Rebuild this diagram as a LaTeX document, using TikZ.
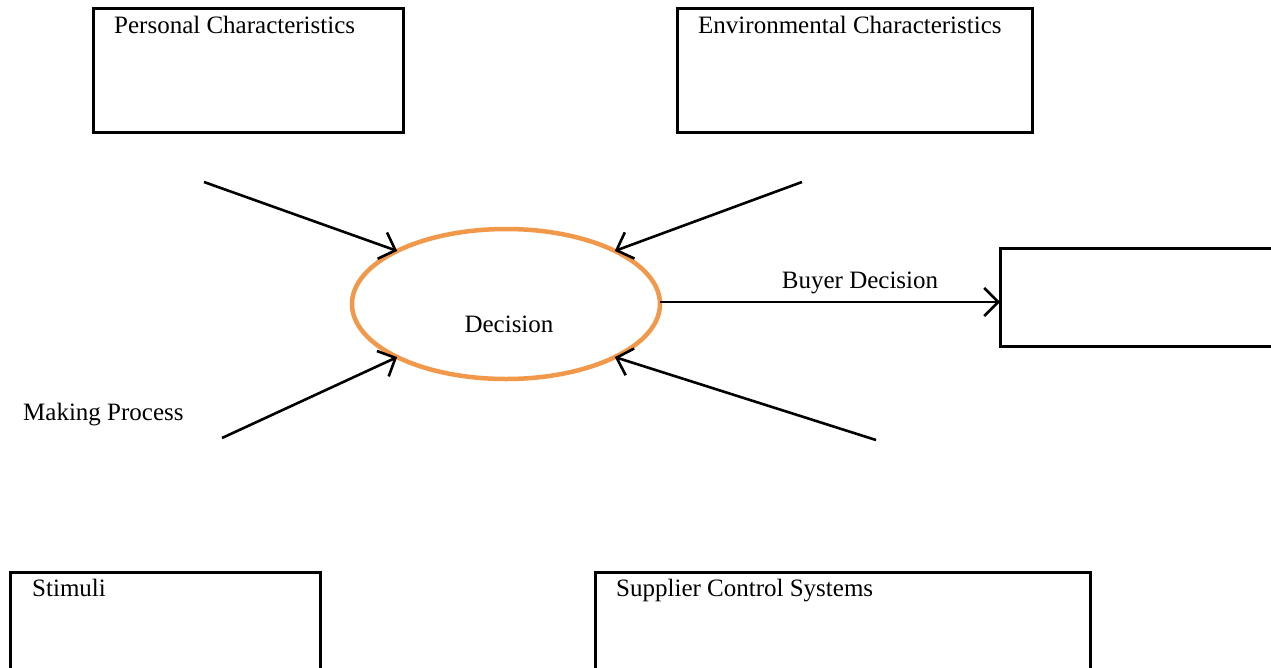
\documentclass[tikz,border=0pt]{standalone}
\usepackage{fontspec}
\setmainfont{Liberation Serif}
\usetikzlibrary{shapes.geometric,arrows.meta}
\definecolor{ellorange}{RGB}{242,152,74}
\begin{document}
\begin{tikzpicture}[x=1pt,y=-1pt,
  box/.style={draw=black,line width=3pt,rectangle,inner sep=0pt,outer sep=0pt},
  lbl/.style={anchor=base west,inner sep=0pt,font=\fontsize{25}{30}\selectfont},
  arr/.style={line width=2.6pt,-{Straight Barb[length=14pt,width=28pt,line width=2.6pt]}}]
\useasboundingbox (0,0) rectangle (1271,667);
\clip (0,0) rectangle (1271,667);
\fill[white] (0,0) rectangle (1271,667);
% boxes
\node[box,minimum width=310pt,minimum height=124pt] (pers) at (248,70) {};
\node[box,minimum width=355pt,minimum height=124pt] (env) at (854.5,70) {};
\node[box,minimum width=310pt,minimum height=160pt] (stim) at (165,652) {};
\node[box,minimum width=495pt,minimum height=160pt] (supp) at (842.5,652) {};
\node[box,minimum width=300pt,minimum height=98pt] (rbox) at (1150,297) {};
% labels
\node[lbl] (perst) at (114,33) {Personal Characteristics};
\node[lbl] (envt) at (698,33) {Environmental Characteristics};
\node[lbl] (stimt) at (32,596) {Stimuli};
\node[lbl] (suppt) at (616,596) {Supplier Control Systems};
\node[lbl] (mak) at (23,420) {Making Process};
% ellipse
\node[ellipse,draw=ellorange,line width=4.5pt,minimum width=308pt,minimum height=150pt,inner sep=0pt,outer sep=0pt] (dec) at (506,304) {};
\node[lbl,anchor=base] (dect) at (509,332) {Decision};
% arrow starts
\coordinate (a1) at (204,182);
\coordinate (a2) at (802,182);
\coordinate (a3) at (222,438);
\coordinate (a4) at (876,440);
\draw[arr] (a1) -- (dec.154);
\draw[arr] (a2) -- (dec.26);
\draw[arr] (a3) -- (dec.206);
\draw[arr] (a4) -- (dec.334);
\draw[arr] ([yshift=2pt]dec.east) -- ([yshift=2pt]dec.east -| rbox.west);
\node[lbl,anchor=base] (buy) at (860,288) {Buyer Decision};
\end{tikzpicture}
\end{document}
